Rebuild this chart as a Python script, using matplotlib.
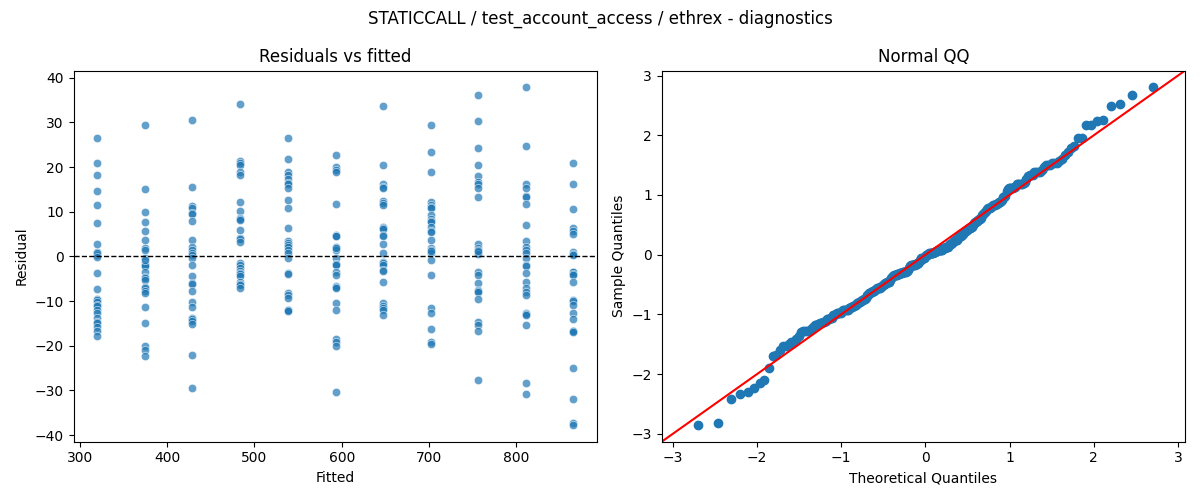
import matplotlib
matplotlib.use("Agg")
import matplotlib.pyplot as plt
import numpy as np
import seaborn as sns
from statistics import NormalDist

title = "STATICCALL / test_account_access / ethrex - diagnostics"

fitted_levels = [320, 375, 429, 484, 538, 593, 647, 702, 756, 811, 865]

res_320 = [26.6, 20.8, 18.3, 14.7, 11.4, 7.4, 2.7, 1.0, 0.4, 0.8, -3.8, -7.4, -9.6, -9.8,
           -10.1, -10.9, -11.2, -12.0, -12.7, -13.8, -14.6, -15.0, -15.9, -0.2, -16.8, -17.9]
res_375 = [29.3, 15.0, 9.9, 7.6, 5.6, 3.6, 1.9, 1.4, -0.3, -1.6, -1.9, -2.2, -3.4, -4.7,
           -4.9, -5.3, -6.8, -7.0, -7.7, -8.3, -11.4, -15.0, -20.0, -20.9, -0.8, -22.2]
res_429 = [30.6, 15.6, 11.2, 10.9, 9.7, 9.5, 8.0, 3.6, 2.2, 1.4, 0.8, 0.3, -0.4, -1.9,
           -4.4, -6.0, -6.2, -7.7, -10.3, -11.4, -13.7, -14.0, -14.4, -15.2, -22.0, -29.4]
res_484 = [34.0, 21.4, 20.8, 20.5, 18.9, 18.3, 12.1, 10.2, 8.5, 8.3, 8.1, 6.0, 4.2, 3.8,
           3.3, -1.4, -1.9, -2.5, -3.2, -3.8, -4.0, -4.3, -5.7, -6.2, -6.4, -7.0]
res_538 = [26.4, 21.9, 18.8, 18.2, 17.4, 16.5, 16.1, 15.2, 12.7, 10.9, 6.3, 3.5, 2.9, 2.5,
           2.2, 1.4, 0.7, -0.3, -3.8, -3.9, -8.1, -8.6, -9.4, -12.0, -12.1, -12.2]
res_593 = [22.6, 20.0, 19.3, 18.8, 11.8, 4.8, 4.6, 4.5, 2.0, 1.4, -0.4, -1.6, -1.7, -1.9,
           -3.6, -4.2, -6.6, -6.8, -7.0, -10.5, -12.1, -18.5, -19.1, 1.8, -20.0, -30.4]
res_647 = [33.6, 20.4, 16.2, 15.6, 15.3, 12.4, 12.0, 11.5, 6.6, 6.4, 6.2, 4.8, 4.6, 2.7,
           0.7, -1.3, -1.5, -1.9, -3.1, -3.3, -5.8, -10.5, -11.2, -11.5, -12.0, -13.1]
res_702 = [29.5, 23.4, 18.8, 12.1, 11.6, 11.1, 10.9, 9.2, 8.3, 7.9, 7.7, 6.6, 5.7, 5.4,
           3.6, 1.9, 1.4, 0.7, -0.8, -4.2, -11.5, -12.7, -16.3, -19.1, 1.2, -19.7]
res_756 = [36.2, 30.2, 24.3, 20.4, 17.9, 16.7, 16.2, 15.4, 13.2, 2.8, 1.8, 1.5, 1.0, 0.5,
           -3.4, -4.2, -6.0, -7.5, -7.7, -7.9, -9.6, -14.6, 1.2, -15.3, -16.6, -27.6]
res_811 = [37.8, 24.8, 16.3, 15.4, 13.6, 13.4, 11.8, 7.1, 3.4, 2.2, 1.4, 0.7, -0.3, -2.0,
           -2.2, -3.8, -5.8, -7.1, -7.9, -8.6, -12.7, -12.9, -13.1, -15.3, -28.4, -30.8]
res_865 = [20.8, 16.3, 10.7, 6.3, 5.6, 5.1, 1.0, 0.5, 0.3, -3.4, -3.6, -4.0, -4.2, -5.8,
           -9.8, -10.0, -10.9, -12.7, -14.1, -16.6, -16.8, -17.0, -25.0, -31.9, -37.3, -37.7]

groups = [res_320, res_375, res_429, res_484, res_538, res_593,
          res_647, res_702, res_756, res_811, res_865]

fitted = np.concatenate([[f] * len(g) for f, g in zip(fitted_levels, groups)])
resid = np.concatenate(groups)

fig, (ax1, ax2) = plt.subplots(1, 2, figsize=(12, 5), dpi=100)

sns.scatterplot(x=fitted, y=resid, alpha=0.7, ax=ax1)
ax1.axhline(0, color="black", linestyle="--", linewidth=1)
ax1.set_title("Residuals vs fitted")
ax1.set_xlabel("Fitted")
ax1.set_ylabel("Residual")

# normal QQ of standardized residuals, 45 degree reference line
z = np.sort((resid - resid.mean()) / resid.std(ddof=1))
n = len(z)
nd = NormalDist()
theo = np.array([nd.inv_cdf(i / (n + 1)) for i in range(1, n + 1)])
ax2.plot(theo, z, "o", color="C0")
lo = min(ax2.get_xlim()[0], ax2.get_ylim()[0])
hi = max(ax2.get_xlim()[1], ax2.get_ylim()[1])
ax2.plot([lo, hi], [lo, hi], "r")
ax2.set_xlim(lo, hi)
ax2.set_ylim(lo, hi)
ax2.set_title("Normal QQ")
ax2.set_xlabel("Theoretical Quantiles")
ax2.set_ylabel("Sample Quantiles")

fig.suptitle(title)
fig.tight_layout()
fig.savefig("out.png")
